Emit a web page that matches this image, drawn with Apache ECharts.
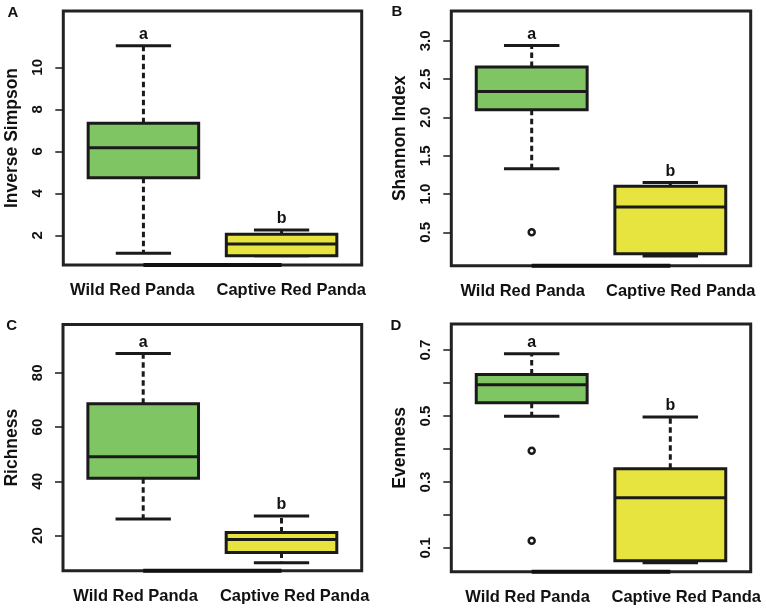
<!DOCTYPE html>
<html>
<head>
<meta charset="utf-8">
<script src="https://cdn.jsdelivr.net/npm/echarts@6/dist/echarts.min.js"></script>
<style>
html,body{margin:0;padding:0;background:#ffffff;}
#chart{width:766px;height:608px;}
</style>
</head>
<body>
<div id="chart"></div>
<script>
// ---------------- data ----------------
const categories = ['Wild Red Panda', 'Captive Red Panda'];
const groupLetters = ['a', 'b'];

// [lower whisker, Q1, median, Q3, upper whisker]
const invSimpsonWild    = [1.14, 4.74, 6.17, 7.34, 11.03];
const invSimpsonCaptive = [1.03, 1.03, 1.59, 2.05, 2.25];
const invSimpsonWildOutliers = [];
const invSimpsonCaptiveOutliers = [];

const shannonWild    = [1.33, 2.10, 2.34, 2.66, 2.94];
const shannonCaptive = [0.19, 0.22, 0.83, 1.10, 1.15];
const shannonWildOutliers = [0.50];
const shannonCaptiveOutliers = [];

const richnessWild    = [26.1, 41.1, 49.1, 68.6, 87.1];
const richnessCaptive = [10.0, 13.8, 18.6, 21.1, 27.2];
const richnessWildOutliers = [];
const richnessCaptiveOutliers = [];

const evennessWild    = [0.499, 0.540, 0.595, 0.626, 0.689];
const evennessCaptive = [0.055, 0.061, 0.252, 0.340, 0.497];
const evennessWildOutliers = [0.395, 0.122];
const evennessCaptiveOutliers = [];

// tick values / tick labels
const invSimpsonTicks = [2, 4, 6, 8, 10];
const invSimpsonTickLabels = [2, 4, 6, 8, 10];
const shannonTicks = [0.5, 1.0, 1.5, 2.0, 2.5, 3.0];
const shannonTickLabels = [0.5, 1.0, 1.5, 2.0, 2.5, 3.0];
const richnessTicks = [20, 40, 60, 80];
const richnessTickLabels = [20, 40, 60, 80];
const evennessTicks = [0.1, 0.2, 0.3, 0.4, 0.5, 0.6, 0.7];
const evennessTickLabels = [0.1, 0.3, 0.5, 0.7];

// ---------------- styling / layout ----------------
const FONT = '"Liberation Sans", Arial, Helvetica, sans-serif';
const DARK = '#1a1a1a';
const FILLS = ['#80C564', '#E7E43F'];

const panels = [
  { tag: 'A', tagPos: [12.8, 13.3], grid: { left: 63.3, top: 11, width: 298.4, height: 254 },
    yMin: 0.586, yMax: 12.68, ticks: invSimpsonTicks, labels: invSimpsonTickLabels, dec: 0,
    name: 'Inverse Simpson', boxes: [invSimpsonWild, invSimpsonCaptive],
    outliers: [invSimpsonWildOutliers, invSimpsonCaptiveOutliers], xLab: [-0.08, 1.07] },
  { tag: 'B', tagPos: [396.8, 12], grid: { left: 451.3, top: 11, width: 299.4, height: 254.7 },
    yMin: 0.064, yMax: 3.39, ticks: shannonTicks, labels: shannonTickLabels, dec: 1,
    name: 'Shannon Index', boxes: [shannonWild, shannonCaptive],
    outliers: [shannonWildOutliers, shannonCaptiveOutliers], xLab: [-0.065, 1.075] },
  { tag: 'C', tagPos: [11.7, 325.7], grid: { left: 63, top: 324.6, width: 298.7, height: 246.1 },
    yMin: 7.05, yMax: 97.8, ticks: richnessTicks, labels: richnessTickLabels, dec: 0,
    name: 'Richness', boxes: [richnessWild, richnessCaptive],
    outliers: [richnessWildOutliers, richnessCaptiveOutliers], xLab: [-0.055, 1.095] },
  { tag: 'D', tagPos: [395.8, 325.7], grid: { left: 451.3, top: 324, width: 299.4, height: 247.7 },
    yMin: 0.028, yMax: 0.779, ticks: evennessTicks, labels: evennessTickLabels, dec: 1,
    name: 'Evenness', boxes: [evennessWild, evennessCaptive],
    outliers: [evennessWildOutliers, evennessCaptiveOutliers], xLab: [-0.03, 1.115] }
];

function renderBox(params, api) {
  const i = api.value(0);
  const v = [1, 2, 3, 4, 5].map(k => api.value(k));
  const p = v.map(val => api.coord([i, val]));
  const unit = api.size([1, 0])[0];
  const cx = p[0][0];
  const hb = unit * 0.4, hc = unit * 0.2;
  const lw = 3;
  const fill = FILLS[params.dataIndex % FILLS.length];
  const children = [];
  if (v[4] > v[3]) {
    children.push({ type: 'line', shape: { x1: cx, y1: p[3][1], x2: cx, y2: p[4][1] },
      style: { stroke: DARK, lineWidth: lw, lineDash: [5.5, 3.5] } });
  }
  if (v[0] < v[1]) {
    children.push({ type: 'line', shape: { x1: cx, y1: p[1][1], x2: cx, y2: p[0][1] },
      style: { stroke: DARK, lineWidth: lw, lineDash: [5.5, 3.5] } });
  }
  children.push({ type: 'line', shape: { x1: cx - hc, y1: p[4][1], x2: cx + hc, y2: p[4][1] },
    style: { stroke: DARK, lineWidth: lw } });
  children.push({ type: 'line', shape: { x1: cx - hc, y1: p[0][1], x2: cx + hc, y2: p[0][1] },
    style: { stroke: DARK, lineWidth: lw } });
  children.push({ type: 'rect', shape: { x: cx - hb, y: p[3][1], width: 2 * hb, height: p[1][1] - p[3][1] },
    style: { fill: fill, stroke: DARK, lineWidth: lw } });
  children.push({ type: 'line', shape: { x1: cx - hb, y1: p[2][1], x2: cx + hb, y2: p[2][1] },
    style: { stroke: DARK, lineWidth: lw } });
  return { type: 'group', children: children };
}

const grids = [], xAxes = [], yAxes = [], series = [], graphics = [];
panels.forEach((pn, k) => {
  grids.push(Object.assign({ show: true, borderColor: '#222222', borderWidth: 3,
    backgroundColor: 'transparent', containLabel: false }, pn.grid));
  xAxes.push({
    gridIndex: k, type: 'value', min: -0.58, max: 1.58, position: 'bottom',
    axisLine: { show: false, onZero: false }, axisTick: { show: false }, splitLine: { show: false },
    axisLabel: { customValues: pn.xLab, margin: 17, fontSize: 16.5, fontWeight: 'bold',
      fontFamily: FONT, color: '#111',
      formatter: v => categories[Math.abs(Math.round(v))] }
  });
  yAxes.push({
    gridIndex: k, type: 'value', min: pn.yMin, max: pn.yMax, position: 'left',
    axisLine: { show: false, onZero: false }, splitLine: { show: false },
    axisTick: { show: true, length: 8, customValues: pn.ticks, lineStyle: { color: DARK, width: 1.5 } },
    axisLabel: { customValues: pn.labels, rotate: 90, margin: 18, fontSize: 15, fontWeight: 'bold',
      fontFamily: FONT, color: '#111', formatter: v => Number(v).toFixed(pn.dec) },
    name: pn.name, nameLocation: 'middle', nameRotate: 90, nameGap: 42,
    nameTextStyle: { fontSize: 17.5, fontWeight: 'bold', fontFamily: FONT, color: '#111' }
  });
  // bottom axis segment between group centres (R axis line)
  series.push({
    type: 'line', xAxisIndex: k, yAxisIndex: k, silent: true, symbol: 'none', clip: false,
    data: [[0, pn.yMin], [1, pn.yMin]], lineStyle: { color: '#111', width: 4 }, z: 1
  });
  series.push({
    type: 'custom', xAxisIndex: k, yAxisIndex: k, silent: true, clip: false,
    renderItem: renderBox,
    encode: { x: 0, y: [1, 2, 3, 4, 5] },
    data: pn.boxes.map((b, i) => [i].concat(b)), z: 3
  });
  const outPts = [];
  pn.outliers.forEach((arr, i) => arr.forEach(val => outPts.push([i, val])));
  series.push({
    type: 'scatter', xAxisIndex: k, yAxisIndex: k, silent: true, symbol: 'circle', symbolSize: 6,
    itemStyle: { color: '#ffffff', borderColor: DARK, borderWidth: 2.5, opacity: 1 },
    data: outPts, z: 4
  });
  series.push({
    type: 'scatter', xAxisIndex: k, yAxisIndex: k, silent: true, symbolSize: 0,
    data: pn.boxes.map((b, i) => [i, b[4]]),
    label: { show: true, position: 'inside', offset: [0, -11], fontSize: 16, fontWeight: 'bold',
      fontFamily: FONT, color: '#111111', opacity: 1, formatter: p => groupLetters[p.dataIndex] },
    z: 5
  });
  graphics.push({
    type: 'text', x: pn.tagPos[0], y: pn.tagPos[1], silent: true,
    style: { text: pn.tag, align: 'center', verticalAlign: 'middle', textAlign: 'center',
      textVerticalAlign: 'middle', font: 'bold 15px ' + FONT, fill: '#111' }
  });
});

const chart = echarts.init(document.getElementById('chart'), null, { renderer: 'canvas' });
chart.setOption({
  animation: false,
  backgroundColor: '#ffffff',
  grid: grids,
  xAxis: xAxes,
  yAxis: yAxes,
  series: series,
  graphic: graphics
});
</script>
</body>
</html>
